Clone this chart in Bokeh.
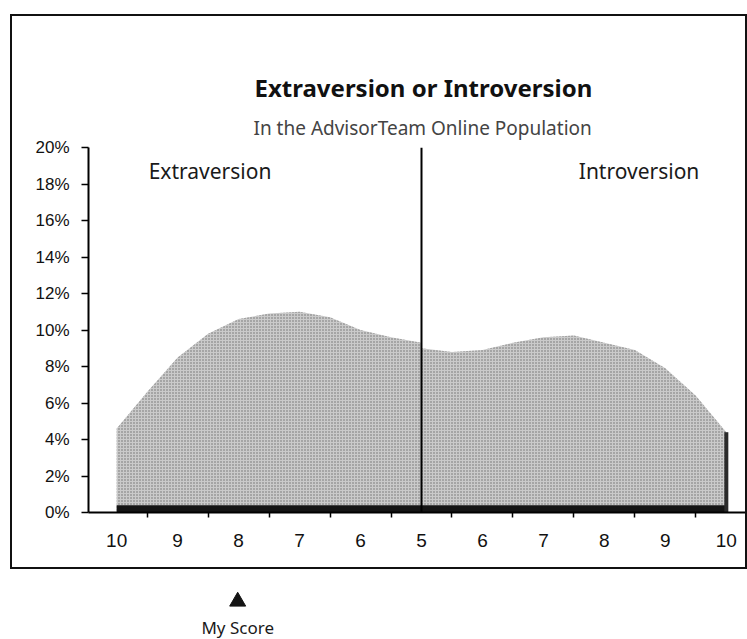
from bokeh.plotting import figure
from bokeh.models import Range1d, FixedTicker, Span, Label, Title, PrintfTickFormatter, Spacer
from bokeh.layouts import column, row
from bokeh.embed import file_html
from bokeh.resources import INLINE
from bokeh.core.properties import value

# ---------------- data ----------------
scale_labels = ["10", "9", "8", "7", "6", "5", "6", "7", "8", "9", "10"]
scale_pos = [0, 1, 2, 3, 4, 5, 6, 7, 8, 9, 10]

extra_pos = [0, 0.5, 1, 1.5, 2, 2.5, 3, 3.5, 4, 4.5, 5]
extra_pct = [4.6, 6.6, 8.5, 9.8, 10.6, 10.9, 11.0, 10.7, 10.0, 9.6, 9.3]

intro_pos = [5, 5.5, 6, 6.5, 7, 7.5, 8, 8.5, 9, 9.5, 10]
intro_pct = [9.0, 8.8, 8.9, 9.3, 9.6, 9.7, 9.3, 8.9, 7.9, 6.4, 4.4]

y_ticks = [0, 2, 4, 6, 8, 10, 12, 14, 16, 18, 20]
pole_labels = ["Extraversion", "Introversion"]
my_score_pos = 2          # "8" on the Extraversion side

title_text = "Extraversion or Introversion"
subtitle_text = "In the AdvisorTeam Online Population"

# ---------------- styles ----------------
AREA = "#cacaca"
DARK = "#141414"
FLOOR = 0.4
HUMANIST = "Noto Sans"
ARIAL = "Liberation Sans"

p = figure(width=733, height=551,
           x_range=Range1d(-0.462, 10.38), y_range=Range1d(0, 20),
           output_backend="svg", toolbar_location=None, title=None,
           min_border_left=76, min_border_right=0,
           min_border_top=131, min_border_bottom=59,
           styles={"border": "2px solid #111", "box-sizing": "content-box"})
p.outline_line_color = None
p.grid.visible = False
p.background_fill_color = "white"
p.border_fill_color = "white"

sub = Title(text=subtitle_text, align="left", offset=165, standoff=14,
            text_font=HUMANIST, text_font_size="19px", text_font_style="normal",
            text_color="#444444")
p.add_layout(sub, "above")
main = Title(text=title_text, align="left", offset=166, standoff=3,
             text_font=HUMANIST, text_font_size="24px", text_font_style="bold",
             text_color="#111111")
p.add_layout(main, "above")

# areas (stippled grey)
area_kw = dict(fill_color=AREA, hatch_pattern="dot", hatch_color="#6e6e6e",
               hatch_scale=3, hatch_weight=1)
p.varea(x=extra_pos, y1=0, y2=extra_pct, **area_kw)
p.varea(x=intro_pos, y1=0, y2=intro_pct, **area_kw)
# dark floor and right edge (3-D effect)
p.varea(x=[extra_pos[0], intro_pos[-1]], y1=0, y2=FLOOR, fill_color=DARK)
p.segment(x0=[intro_pos[-1]], y0=[0], x1=[intro_pos[-1]], y1=[intro_pct[-1]],
          line_width=4, line_color="#2a2a2a")

# divider at the midpoint
p.add_layout(Span(location=scale_pos[5], dimension="height",
                  line_color="black", line_width=2))

# pole labels
p.add_layout(Label(x=scale_pos[0], y=y_ticks[-1], x_offset=32, y_offset=-23,
                   text=pole_labels[0], text_font=HUMANIST, text_font_size="21px",
                   text_baseline="middle", text_color="#1a1a1a"))
p.add_layout(Label(x=scale_pos[-1], y=y_ticks[-1], x_offset=-27, y_offset=-23,
                   text=pole_labels[1], text_font=HUMANIST, text_font_size="21px",
                   text_baseline="middle", text_align="right", text_color="#1a1a1a"))

# x axis
xa = p.xaxis[0]
xa.ticker = FixedTicker(ticks=scale_pos, minor_ticks=[v + 0.5 for v in scale_pos[:-1]])
xa.major_label_overrides = {v: lab for v, lab in zip(scale_pos, scale_labels)}
xa.major_tick_in = 0
xa.major_tick_out = 0
xa.minor_tick_in = 0
xa.minor_tick_out = 5
xa.minor_tick_line_color = "black"
xa.minor_tick_line_width = 1.5
xa.axis_line_color = "black"
xa.axis_line_width = 2
xa.major_label_text_font = ARIAL
xa.major_label_text_font_size = "19px"
xa.major_label_text_color = "#111111"
xa.major_label_standoff = 16

# y axis
ya = p.yaxis[0]
ya.ticker = FixedTicker(ticks=y_ticks, minor_ticks=[])
ya.formatter = PrintfTickFormatter(format="%d%%")
ya.major_tick_in = 0
ya.major_tick_out = 7
ya.major_tick_line_width = 1.5
ya.minor_tick_out = 0
ya.axis_line_color = "black"
ya.axis_line_width = 2
ya.major_label_text_font = ARIAL
ya.major_label_text_font_size = "17px"
ya.major_label_text_color = "#111111"
ya.major_label_standoff = 12

# ---------------- "My Score" strip ----------------
s = figure(width=733, height=69, x_range=p.x_range, y_range=Range1d(-37, 32),
           output_backend="svg", toolbar_location=None,
           min_border_left=76, min_border_right=0, min_border_top=0, min_border_bottom=0,
           x_axis_location=None, y_axis_location=None)
s.outline_line_color = None
s.grid.visible = False
s.scatter(x=[my_score_pos], y=[0], marker="triangle", size=16,
          fill_color=DARK, line_color=DARK)
s.text(x=[my_score_pos], y=[0], text=["My Score"], y_offset=26,
       text_align="center", text_baseline="middle",
       text_font=value(HUMANIST), text_font_size="17px", text_color="#1a1a1a")

layout = column(Spacer(height=14),
                row(Spacer(width=10), p, spacing=0),
                row(Spacer(width=12), s, spacing=0),
                spacing=0)
open("out.html", "w").write(file_html(layout, INLINE))
